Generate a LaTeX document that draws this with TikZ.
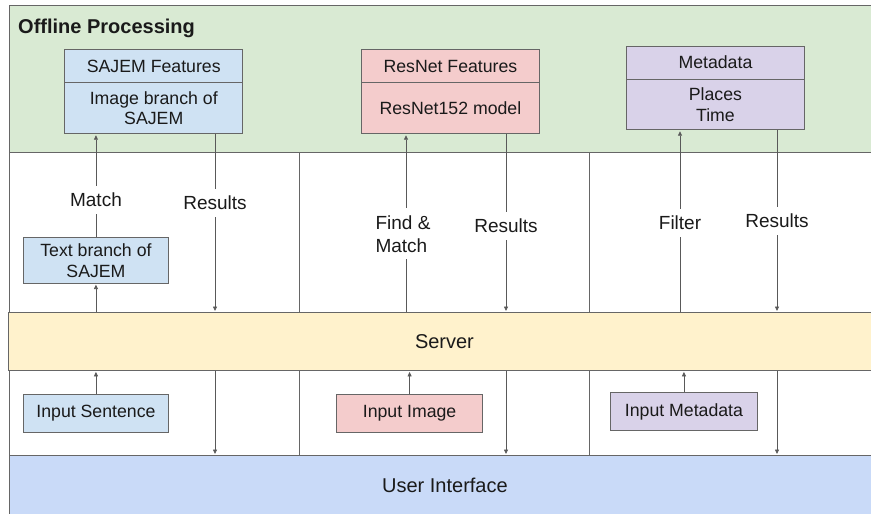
\documentclass[tikz,border=0pt]{standalone}
\usepackage{fontspec}
\setmainfont{Liberation Sans}
\usetikzlibrary{arrows.meta}

\definecolor{offgreen}{HTML}{D9EAD3}
\definecolor{srvyellow}{HTML}{FFF2CC}
\definecolor{uiblue}{HTML}{C9DAF8}
\definecolor{sajblue}{HTML}{CFE2F3}
\definecolor{respink}{HTML}{F4CCCC}
\definecolor{metapurple}{HTML}{D9D2E9}
\definecolor{edge}{HTML}{666666}
\definecolor{wire}{HTML}{595959}
\definecolor{ink}{HTML}{1A1A1A}

\begin{document}
\begin{tikzpicture}[x=1pt,y=-1pt,
  band/.style={draw=edge, line width=0.9pt},
  bandnode/.style={band, inner sep=0pt, anchor=north west, text=ink,
    font=\fontsize{20}{24}\selectfont},
  box/.style={draw=edge, line width=0.9pt, inner sep=0pt, anchor=north west,
    align=center, text=ink, font=\fontsize{17.7}{20.5}\selectfont},
  lbl/.style={fill=white, inner xsep=1pt, inner ysep=7pt, align=center,
    text=ink, font=\fontsize{19}{23}\selectfont},
  flow/.style={draw=wire, line width=0.8pt,
    -{Triangle[length=4.5pt,width=4pt]}, shorten >=1pt},
]
\useasboundingbox (0,0) rectangle (871,514);
\clip (0,0) rectangle (871,514);

% ---- horizontal bands -------------------------------------------------
\draw[band, fill=offgreen] (9,5) rectangle (890,152);
\node[anchor=base west, inner sep=0pt, text=ink,
  font=\bfseries\fontsize{20}{24}\selectfont]
  (title) at (18,34) {Offline Processing};

\draw[band] (9,152) rectangle (890,312);
\draw[band] (299,152) -- (299,312) (589,152) -- (589,312);

\node[bandnode, fill=srvyellow, minimum width=872pt, minimum height=58pt]
  (server) at (8,312) {Server};

\draw[band] (9,370) rectangle (890,455);
\draw[band] (299,370) -- (299,455) (589,370) -- (589,455);

\node[bandnode, fill=uiblue, minimum width=871pt, minimum height=60pt]
  (ui) at (9,455) {User Interface};

% ---- offline feature boxes --------------------------------------------
\node[box, fill=sajblue, minimum width=178pt, minimum height=33pt]
  (sjH) at (64.3,49.3) {SAJEM Features};
\node[box, fill=sajblue, minimum width=178pt, minimum height=51pt]
  (sjB) at (64.3,82.3) {Image branch of\\SAJEM};

\node[box, fill=respink, minimum width=178pt, minimum height=33pt]
  (rnH) at (361,49.3) {ResNet Features};
\node[box, fill=respink, minimum width=178pt, minimum height=51pt]
  (rnB) at (361,82.3) {ResNet152 model};

\node[box, fill=metapurple, minimum width=178.6pt, minimum height=33pt]
  (mdH) at (625.7,45.7) {Metadata};
\node[box, fill=metapurple, minimum width=178.6pt, minimum height=50.6pt]
  (mdB) at (625.7,78.7) {Places\\Time};

% ---- query-side boxes -------------------------------------------------
\node[box, fill=sajblue, minimum width=145.6pt, minimum height=45.4pt]
  (tb) at (22.7,237.3) {Text branch of\\SAJEM};

\node[box, fill=sajblue, minimum width=145.6pt, minimum height=37.4pt]
  (inS) at (22.7,394.3) {\raisebox{-1.5pt}{Input Sentence}};
\node[box, fill=respink, minimum width=146.3pt, minimum height=37.4pt]
  (inI) at (336,394.3) {\raisebox{-1.5pt}{Input Image}};
\node[box, fill=metapurple, minimum width=146.4pt, minimum height=37.7pt]
  (inM) at (610.3,392.3) {\raisebox{-1.5pt}{Input Metadata}};

% ---- columns of the connectors ----------------------------------------
\coordinate (c1r) at (215,0);
\coordinate (c2u) at (406,0);
\coordinate (c2r) at (506,0);
\coordinate (c3u) at (680,0);
\coordinate (c3r) at (777,0);

% ---- column 1: sentence query -----------------------------------------
\draw[flow] (inS.north) -- (server.south -| inS.north);
\draw[flow] (server.north -| tb.south) -- (tb.south);
\draw[flow] (tb.north) -- node[lbl, pos=0.365] (lm) {Match} (sjB.south -| tb.north);
\draw[flow] (sjB.south -| c1r) -- node[lbl, pos=0.385] (lr1) {Results} (server.north -| c1r);
\draw[flow] (server.south -| c1r) -- (ui.north -| c1r);

% ---- column 2: image query --------------------------------------------
\draw[flow] (inI.north) -- (server.south -| inI.north);
\draw[flow] (server.north -| c2u) -- node[lbl, align=left, pos=0.44, xshift=-3pt] (lf) {Find \&\\Match} (rnB.south -| c2u);
\draw[flow] (rnB.south -| c2r) -- node[lbl, pos=0.514] (lr2) {Results} (server.north -| c2r);
\draw[flow] (server.south -| c2r) -- (ui.north -| c2r);

% ---- column 3: metadata query -----------------------------------------
\draw[flow] (inM.north) -- (server.south -| inM.north);
\draw[flow] (server.north -| c3u) -- node[lbl, pos=0.49] (lfi) {Filter} (mdB.south -| c3u);
\draw[flow] (mdB.south -| c3r) -- node[lbl, pos=0.497] (lr3) {Results} (server.north -| c3r);
\draw[flow] (server.south -| c3r) -- (ui.north -| c3r);
\end{tikzpicture}
\end{document}
